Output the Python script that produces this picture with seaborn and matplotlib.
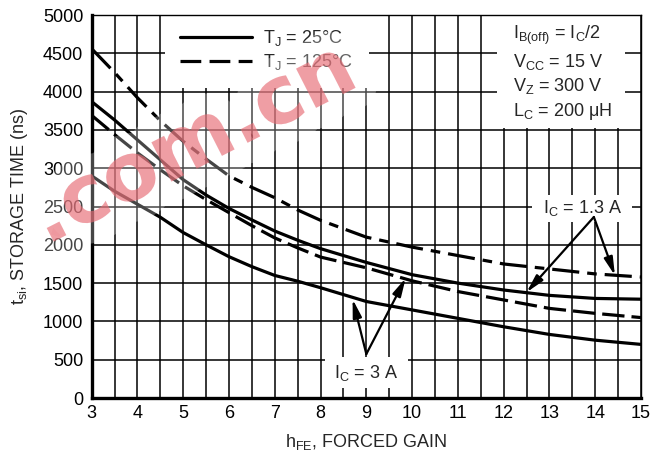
import matplotlib
matplotlib.use("Agg")
import matplotlib.pyplot as plt
import matplotlib.patheffects as pe
from matplotlib.lines import Line2D
from matplotlib.patches import Rectangle
import numpy as np
import pandas as pd
import seaborn as sns

# Forced gain values at which the curves were sampled
h_fe = [3, 3.5, 4, 4.5, 5, 5.5, 6, 6.5, 7, 7.5, 8, 9, 10, 11, 12, 13, 14, 15]

# Storage time (ns)
ts_3a_25c = [2900, 2700, 2530, 2360, 2160, 2000, 1845, 1715, 1600, 1525, 1440,
             1260, 1150, 1040, 930, 830, 755, 700]
ts_13a_25c = [3870, 3630, 3370, 3110, 2850, 2650, 2475, 2325, 2180, 2060, 1950,
              1770, 1610, 1500, 1410, 1340, 1300, 1290]
ts_3a_125c = [3690, 3440, 3200, 2980, 2770, 2590, 2420, 2250, 2090, 1960, 1840,
              1700, 1530, 1390, 1280, 1170, 1105, 1050]
ts_13a_125c = [4560, 4250, 3920, 3620, 3350, 3120, 2900, 2750, 2615, 2455, 2320,
               2100, 1970, 1860, 1750, 1685, 1620, 1580]

x_ticks = list(range(3, 16))
y_ticks = list(range(0, 5001, 500))

legend_labels = [r"T$_{\mathrm{J}}$ = 25°C", r"T$_{\mathrm{J}}$ = 125°C"]
cond_text = ("I$_{\\mathrm{B(off)}}$ = I$_{\\mathrm{C}}$/2\n"
             "V$_{\\mathrm{CC}}$ = 15 V\n"
             "V$_{\\mathrm{Z}}$ = 300 V\n"
             "L$_{\\mathrm{C}}$ = 200 μH")

sns.set_theme(style="white")
plt.rcParams["font.family"] = ["Liberation Sans", "DejaVu Sans"]
plt.rcParams["mathtext.fontset"] = "custom"
plt.rcParams["mathtext.rm"] = "Liberation Sans"
plt.rcParams["mathtext.it"] = "Liberation Sans"
plt.rcParams["mathtext.default"] = "regular"

FS = 13

fig = plt.figure(figsize=(6.68, 4.62), dpi=100)
ax = fig.add_axes([0.1372, 0.1385, 0.8224, 0.8290])

df = pd.DataFrame({
    "hfe": h_fe,
    "a": ts_3a_25c,
    "b": ts_13a_25c,
    "c": ts_3a_125c,
    "d": ts_13a_125c,
})

lw = 2.3
sns.lineplot(data=df, x="hfe", y="a", ax=ax, color="black", lw=lw, zorder=3)
sns.lineplot(data=df, x="hfe", y="b", ax=ax, color="black", lw=lw, zorder=3)
sns.lineplot(data=df, x="hfe", y="c", ax=ax, color="black", lw=lw, zorder=3,
             linestyle=(0, (7, 2.2)))
sns.lineplot(data=df, x="hfe", y="d", ax=ax, color="black", lw=lw, zorder=3,
             linestyle=(0, (8.5, 2.5, 3, 2.5)))

ax.set_xlim(3, 15)
ax.set_ylim(0, 5000)
ax.set_xticks(x_ticks)
ax.set_xticks(np.arange(3.5, 15, 1.0), minor=True)
ax.set_yticks(y_ticks)
ax.set_axisbelow(True)
ax.grid(True, which="both", axis="x", color="black", lw=1.1, zorder=0.5)
ax.grid(True, which="major", axis="y", color="black", lw=1.1, zorder=0.5)
ax.tick_params(axis="both", which="both", length=0, labelsize=FS, colors="black")
ax.tick_params(axis="x", pad=5)
ax.tick_params(axis="y", pad=6)

for side in ("left", "bottom"):
    ax.spines[side].set_linewidth(2.4)
    ax.spines[side].set_color("black")
for side in ("top", "right"):
    ax.spines[side].set_linewidth(1.0)
    ax.spines[side].set_color("black")
    ax.spines[side].set_visible(True)

ax.set_xlabel(r"h$_{\mathrm{FE}}$, FORCED GAIN", fontsize=FS, labelpad=7)
ax.set_ylabel(r"t$_{\mathrm{si}}$, STORAGE TIME (ns)", fontsize=FS, labelpad=9)

# White panels behind legend and text blocks
for (x0, y0, w, h) in [(4.6, 4050, 4.45, 950), (11.85, 3525, 2.8, 1475),
                       (12.62, 2300, 2.18, 350), (8.1, 130, 1.8, 405)]:
    ax.add_patch(Rectangle((x0, y0), w, h, facecolor="white", edgecolor="none",
                           zorder=2))

handles = [Line2D([], [], color="black", lw=lw),
           Line2D([], [], color="black", lw=lw, linestyle=(0, (6.5, 2.6)))]
ax.legend(handles, legend_labels, loc="upper left",
          bbox_to_anchor=(0.148, 0.985), frameon=False, fontsize=FS,
          handlelength=4.0, handletextpad=0.6, labelspacing=0.25,
          borderaxespad=0)

ax.text(12.2, 4880, cond_text, fontsize=FS, ha="left", va="top",
        linespacing=1.3, zorder=4)
ax.text(13.72, 2480, r"I$_{\mathrm{C}}$ = 1.3 A", fontsize=FS, ha="center",
        va="center", zorder=4)
ax.text(9.0, 330, r"I$_{\mathrm{C}}$ = 3 A", fontsize=FS, ha="center",
        va="center", zorder=4)

arrow = dict(arrowstyle="-|>,head_length=0.9,head_width=0.22", color="black",
             lw=1.6, shrinkA=0, shrinkB=0)
ax.annotate("", xy=(12.5, 1380), xytext=(13.97, 2363), arrowprops=arrow, zorder=4)
ax.annotate("", xy=(14.43, 1600), xytext=(13.97, 2363), arrowprops=arrow, zorder=4)
ax.annotate("", xy=(8.7, 1290), xytext=(9.0, 574), arrowprops=arrow, zorder=4)
ax.annotate("", xy=(9.86, 1565), xytext=(9.0, 574), arrowprops=arrow, zorder=4)

# Site watermark
fig.text(0.29, 0.685, ".com.cn", fontsize=58, fontweight="bold",
         family="DejaVu Sans", color="#e6606a", alpha=0.5, rotation=27,
         ha="center", va="center", zorder=10,
         path_effects=[pe.withStroke(linewidth=30, foreground="white", alpha=0.28)])

fig.savefig("out.png", dpi=100)
